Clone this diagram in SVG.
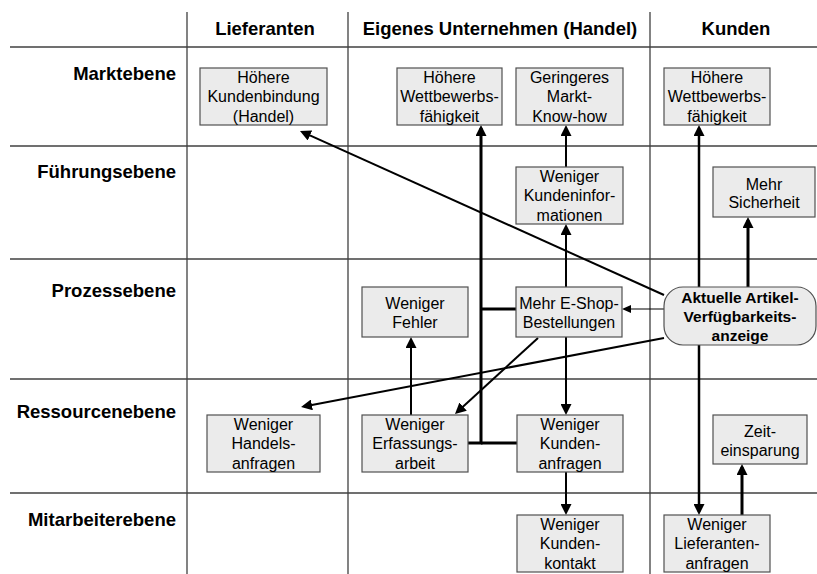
<svg xmlns="http://www.w3.org/2000/svg" width="817" height="574" viewBox="0 0 817 574">
<style>
.grid{stroke:#404040;stroke-width:1.3;fill:none}
.lbl{font-family:"Liberation Sans",Arial,sans-serif;font-weight:bold;font-size:18.5px;fill:#000}
.box{fill:#ebebeb;stroke:#505050;stroke-width:1.2}
.t{font-family:"Liberation Sans",Arial,sans-serif;font-size:16px;fill:#000;text-anchor:middle}
.tb{font-family:"Liberation Sans",Arial,sans-serif;font-size:15.5px;font-weight:bold;fill:#000;text-anchor:middle}
.c{stroke:#000;fill:none}
.w3{stroke-width:3}
.w25{stroke-width:2.5}
.w2{stroke-width:2}
.w1{stroke-width:1.2}
.big{marker-end:url(#ah)}
.sm{marker-end:url(#as)}
</style>
<defs>
<marker id="ah" markerUnits="userSpaceOnUse" markerWidth="11" markerHeight="11" refX="8" refY="5.5" orient="auto" viewBox="0 0 11 11">
<path d="M0,0 L11,5.5 L0,11 z" fill="#000"/>
</marker>
<marker id="as" markerUnits="userSpaceOnUse" markerWidth="9" markerHeight="8" refX="7" refY="4" orient="auto" viewBox="0 0 9 8">
<path d="M0,0 L9,4 L0,8 z" fill="#000"/>
</marker>
</defs>
<rect width="817" height="574" fill="#fff"/>
<g id="grid">
<line class="grid" x1="10" y1="47" x2="817" y2="47"/>
<line class="grid" x1="10" y1="146" x2="817" y2="146"/>
<line class="grid" x1="10" y1="259" x2="817" y2="259"/>
<line class="grid" x1="10" y1="379" x2="817" y2="379"/>
<line class="grid" x1="10" y1="493" x2="817" y2="493"/>
<line class="grid" x1="187" y1="12" x2="187" y2="574"/>
<line class="grid" x1="348" y1="12" x2="348" y2="574"/>
<line class="grid" x1="650" y1="12" x2="650" y2="574"/>
</g>
<g id="headers">
<text class="lbl" x="265" y="35" text-anchor="middle">Lieferanten</text>
<text class="lbl" x="500" y="35" text-anchor="middle">Eigenes Unternehmen (Handel)</text>
<text class="lbl" x="736" y="35" text-anchor="middle">Kunden</text>
<text class="lbl" x="176" y="80" text-anchor="end">Marktebene</text>
<text class="lbl" x="176" y="178" text-anchor="end">Führungsebene</text>
<text class="lbl" x="176" y="297" text-anchor="end">Prozessebene</text>
<text class="lbl" x="176" y="418" text-anchor="end">Ressourcenebene</text>
<text class="lbl" x="176" y="526" text-anchor="end">Mitarbeiterebene</text>
</g>
<g id="connectors">
<polyline class="c w3 big" points="468,443 481,443 481,128"/>
<line class="c w3" x1="481" y1="443" x2="517" y2="443"/>
<line class="c w3" x1="481" y1="309" x2="516" y2="309"/>
<line class="c w2 big" x1="566" y1="167" x2="566" y2="128"/>
<line class="c w2 big" x1="566" y1="287" x2="566" y2="227"/>
<line class="c w2 big" x1="566" y1="337" x2="566" y2="412"/>
<line class="c w2 big" x1="566" y1="472" x2="566" y2="512"/>
<line class="c w25 big" x1="699" y1="287" x2="699" y2="128"/>
<line class="c w25 big" x1="699" y1="345" x2="699" y2="512"/>
<line class="c w3 big" x1="748" y1="287" x2="748" y2="220"/>
<line class="c w3 big" x1="742" y1="515" x2="742" y2="467"/>
<line class="c w1 sm" x1="664" y1="309" x2="624" y2="309"/>
<line class="c w2 big" x1="664" y1="295" x2="302.7" y2="132.2"/>
<line class="c w2 big" x1="664" y1="338" x2="304" y2="406.4"/>
<line class="c w2 big" x1="538" y1="338" x2="457.2" y2="412"/>
<line class="c w2 big" x1="411" y1="415" x2="411" y2="340"/>
</g>
<g id="n1"><rect class="box" x="200" y="68" width="127" height="57"/>
<text class="t" x="263.5" y="82.5">Höhere</text><text class="t" x="263.5" y="102">Kundenbindung</text><text class="t" x="263.5" y="121.5">(Handel)</text></g>
<g id="n2"><rect class="box" x="397" y="68" width="105" height="57"/>
<text class="t" x="449.5" y="82.5">Höhere</text><text class="t" x="449.5" y="102">Wettbewerbs-</text><text class="t" x="449.5" y="121.5">fähigkeit</text></g>
<g id="n3"><rect class="box" x="516" y="68" width="107" height="57"/>
<text class="t" x="569.5" y="82.5">Geringeres</text><text class="t" x="569.5" y="102">Markt-</text><text class="t" x="569.5" y="121.5">Know-how</text></g>
<g id="n4"><rect class="box" x="664" y="68" width="106" height="57"/>
<text class="t" x="717" y="82.5">Höhere</text><text class="t" x="717" y="102">Wettbewerbs-</text><text class="t" x="717" y="121.5">fähigkeit</text></g>
<g id="n5"><rect class="box" x="516" y="167" width="107" height="57"/>
<text class="t" x="569.5" y="181.5">Weniger</text><text class="t" x="569.5" y="201">Kundeninfor-</text><text class="t" x="569.5" y="220.5">mationen</text></g>
<g id="n6"><rect class="box" x="713" y="167" width="102" height="50"/>
<text class="t" x="764" y="189.5">Mehr</text><text class="t" x="764" y="208">Sicherheit</text></g>
<g id="n7"><rect class="box" x="362" y="287" width="106" height="50"/>
<text class="t" x="415" y="309">Weniger</text><text class="t" x="415" y="328">Fehler</text></g>
<g id="n8"><rect class="box" x="516" y="287" width="106" height="50"/>
<text class="t" x="569" y="309">Mehr E-Shop-</text><text class="t" x="569" y="328">Bestellungen</text></g>
<g id="n9"><rect class="box" x="664" y="287" width="152" height="58" rx="19" ry="19"/>
<text class="tb" x="740" y="302.5">Aktuelle Artikel-</text><text class="tb" x="740" y="322">Verfügbarkeits-</text><text class="tb" x="740" y="341">anzeige</text></g>
<g id="n10"><rect class="box" x="207" y="415" width="113" height="57"/>
<text class="t" x="263.5" y="429.5">Weniger</text><text class="t" x="263.5" y="449">Handels-</text><text class="t" x="263.5" y="468.5">anfragen</text></g>
<g id="n11"><rect class="box" x="362" y="415" width="106" height="57"/>
<text class="t" x="415" y="429.5">Weniger</text><text class="t" x="415" y="449">Erfassungs-</text><text class="t" x="415" y="468.5">arbeit</text></g>
<g id="n12"><rect class="box" x="517" y="415" width="106" height="57"/>
<text class="t" x="570" y="429.5">Weniger</text><text class="t" x="570" y="449">Kunden-</text><text class="t" x="570" y="468.5">anfragen</text></g>
<g id="n13"><rect class="box" x="713" y="415" width="94" height="49"/>
<text class="t" x="760" y="436.5">Zeit-</text><text class="t" x="760" y="455.5">einsparung</text></g>
<g id="n14"><rect class="box" x="517" y="515" width="106" height="57"/>
<text class="t" x="570" y="529.5">Weniger</text><text class="t" x="570" y="549">Kunden-</text><text class="t" x="570" y="568.5">kontakt</text></g>
<g id="n15"><rect class="box" x="664" y="515" width="106" height="57"/>
<text class="t" x="717" y="529.5">Weniger</text><text class="t" x="717" y="549">Lieferanten-</text><text class="t" x="717" y="568.5">anfragen</text></g>
</svg>
